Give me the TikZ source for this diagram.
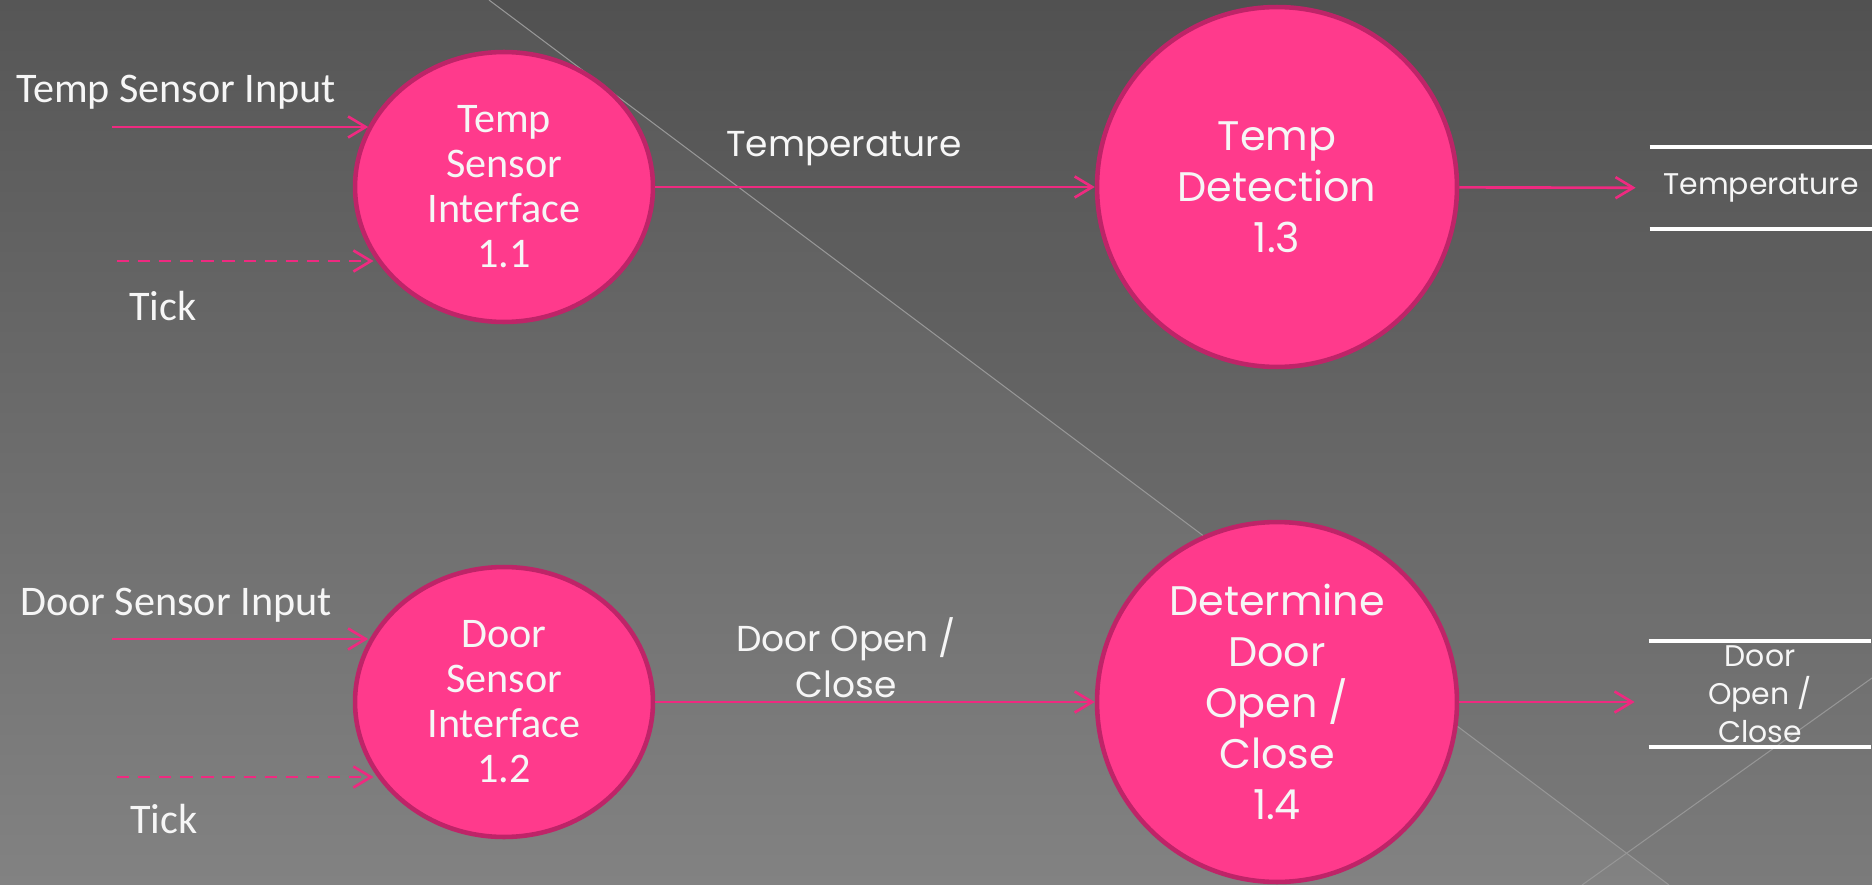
\documentclass[tikz,border=0pt]{standalone}
\usepackage{fontspec}
\setmainfont{Carlito}
\newfontfamily\geofont{Poppins}
\usetikzlibrary{arrows.meta,shapes.geometric}

\definecolor{procpink}{RGB}{255,58,140}
\definecolor{procedge}{RGB}{190,36,104}
\definecolor{flowpink}{RGB}{238,42,128}
\definecolor{bgtop}{RGB}{86,86,86}
\definecolor{bgbottom}{RGB}{130,130,130}
\definecolor{bgline}{RGB}{150,150,150}
\definecolor{txt}{RGB}{246,246,246}

\tikzset{
  iface/.style={ellipse, fill=procpink, draw=procedge, line width=2.6pt, inner sep=0pt,
    minimum width=5.96cm, minimum height=5.4cm, text=txt, align=center,
    font=\fontsize{24}{25.6}\selectfont},
  proc/.style={circle, fill=procpink, draw=procedge, line width=2.6pt, inner sep=0pt,
    minimum size=7.2cm, text=txt, align=center,
    font=\geofont\fontsize{23.5}{29}\selectfont},
  flow/.style={draw=flowpink, line width=1.5pt, -{Straight Barb[length=10pt,width=12pt]}},
  tick/.style={flow, dash pattern=on 7pt off 5pt},
  inlabel/.style={text=txt, inner sep=0pt, font=\fontsize{24}{26}\selectfont},
  flowlabel/.style={text=txt, inner sep=0pt, align=center, font=\geofont\fontsize{20.5}{26}\selectfont},
  store/.style={text=txt, inner sep=0pt, align=center, minimum width=4.44cm,
    font=\geofont\fontsize{17}{21.6}\selectfont},
  storeline/.style={draw=white, line width=2.3pt},
}

\begin{document}
\begin{tikzpicture}[x=0.02cm, y=-0.02cm]
    % background
    \useasboundingbox (0,0) rectangle (1872,885);
    \shade[top color=bgtop, bottom color=bgbottom] (0,0) rectangle (1872,885);
    \fill[black, opacity=0.05] (489,0) -- (1872,0) -- (1872,885) -- (1669,885) -- cycle;
    \draw[bgline, line width=0.6pt] (489,0) -- (1669,885);
    \draw[bgline, line width=0.6pt] (1582,885) -- (1872,678);

    % processes
    \node[iface] (e11) at (504,187) {Temp\\Sensor\\Interface\\1.1};
    \node[iface] (e12) at (504,702) {Door\\Sensor\\Interface\\1.2};
    \node[proc] (c13) at (1277,187) {Temp\\Detection\\1.3};
    \node[proc] (c14) at (1277,702) {Determine\\Door\\Open /\\Close\\1.4};

    % stores
    \node[store, minimum height=1.62cm] (s1) at (1761,188) {Temperature};
    \draw[storeline] (s1.north west) -- (s1.north east);
    \draw[storeline] (s1.south west) -- (s1.south east);
    \node[store, minimum height=2.12cm] (s2) at (1760,694) {Door\\Open /\\Close};
    \draw[storeline] (s2.north west) -- (s2.north east);
    \draw[storeline] (s2.south west) -- (s2.south east);

    % inputs
    \node[inlabel, anchor=base west] (lin1) at (16,103) {Temp Sensor Input};
    \node[inlabel, anchor=base west] (ltk1) at (129,320) {Tick};
    \coordinate (in1) at (112,127);
    \coordinate (tk1) at (117,261);
    \draw[flow] (in1) -- (in1 -| e11.156);
    \draw[tick] (tk1) -- (tk1 -| e11.208);

    \node[inlabel, anchor=base west] (lin2) at (20,615) {Door Sensor Input};
    \node[inlabel, anchor=base west] (ltk2) at (130,833) {Tick};
    \coordinate (in2) at (112,639);
    \coordinate (tk2) at (117,777);
    \draw[flow] (in2) -- (in2 -| e12.156);
    \draw[tick] (tk2) -- (tk2 -| e12.208);

    % flows
    \node[flowlabel] (ftemp) at (844,149) {Temperature};
    \draw[flow] (e11) -- (c13);
    \draw[flow, shorten >=8pt] (c13) -- (s1);

    \node[flowlabel] (fdoor) at (846,658) {Door Open /\\Close};
    \draw[flow] (e12) -- (c14);
    \draw[flow, shorten >=8pt] (c14) -- (s2.west |- c14);
\end{tikzpicture}
\end{document}
